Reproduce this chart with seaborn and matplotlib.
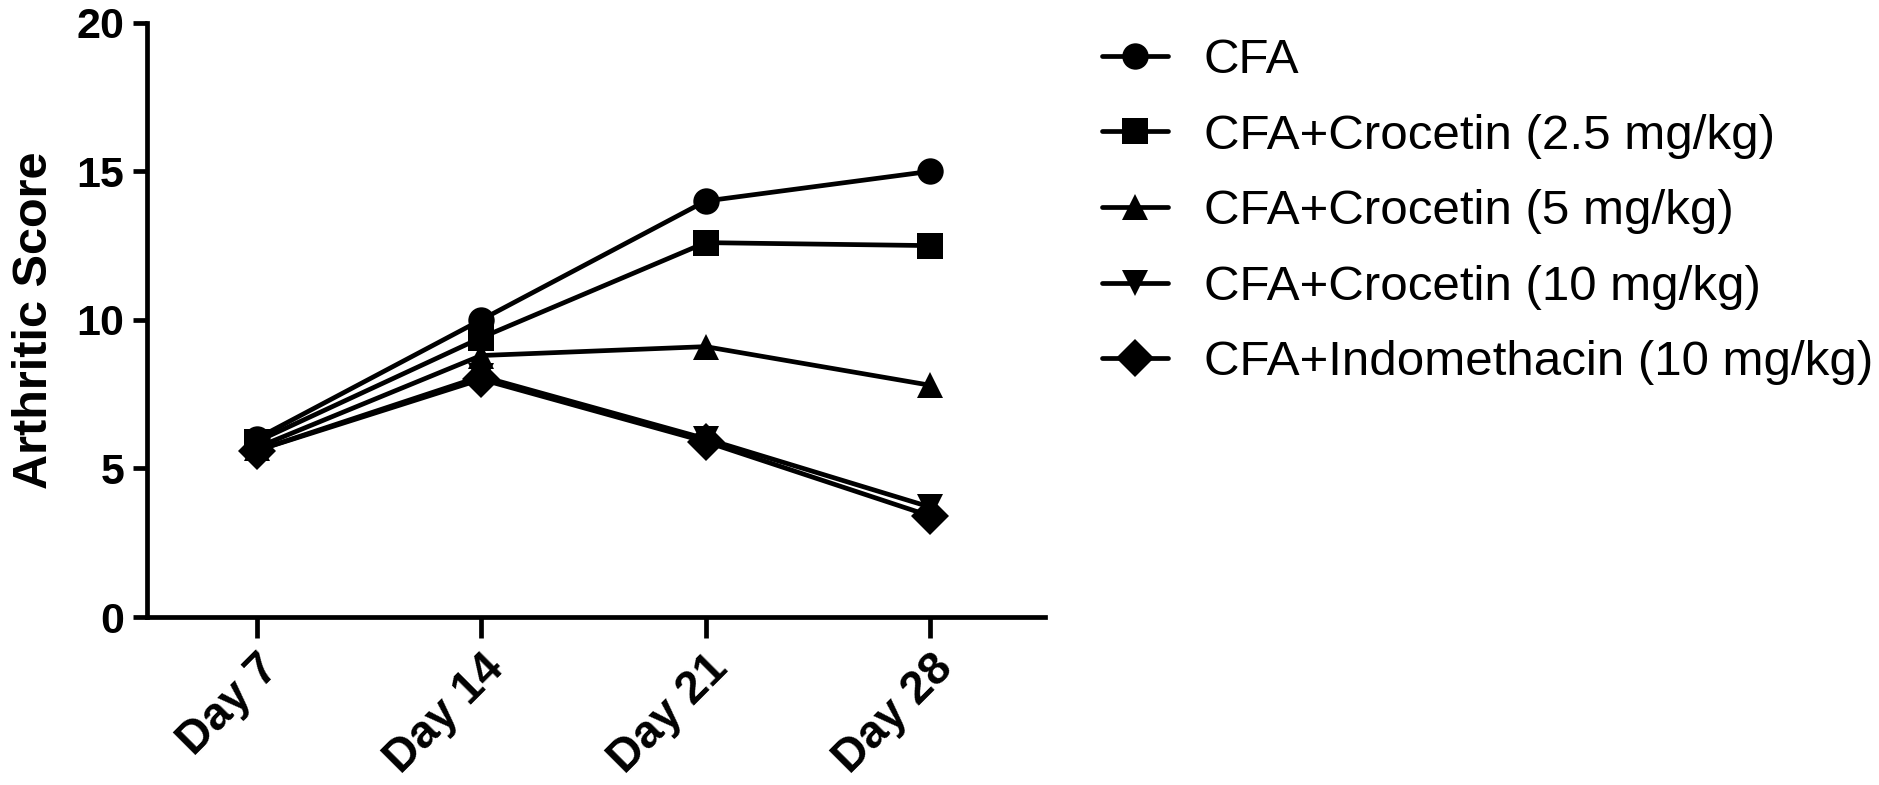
import pandas as pd
import matplotlib
matplotlib.use('Agg')
import matplotlib.pyplot as plt
import seaborn as sns

days = ['Day 7', 'Day 14', 'Day 21', 'Day 28']
groups = ['CFA', 'CFA+Crocetin (2.5 mg/kg)', 'CFA+Crocetin (5 mg/kg)',
          'CFA+Crocetin (10 mg/kg)', 'CFA+Indomethacin (10 mg/kg)']
cfa = [6.0, 10.0, 14.0, 15.0]
croc_25 = [5.9, 9.4, 12.6, 12.5]
croc_5 = [5.7, 8.8, 9.1, 7.8]
croc_10 = [5.6, 8.1, 6.0, 3.7]
indo = [5.6, 8.0, 5.9, 3.4]

series = [cfa, croc_25, croc_5, croc_10, indo]
rows = []
for g, vals in zip(groups, series):
    for d, v in zip(days, vals):
        rows.append({'day': d, 'score': v, 'group': g})
df = pd.DataFrame(rows)

sns.set_style('ticks')
plt.rcParams['font.family'] = ['Liberation Sans', 'DejaVu Sans']
plt.rcParams['text.color'] = 'black'
plt.rcParams['axes.labelcolor'] = 'black'
plt.rcParams['xtick.color'] = 'black'
plt.rcParams['ytick.color'] = 'black'

fig = plt.figure(figsize=(18.79, 7.85), dpi=100)
ax = fig.add_axes([0.078, 0.214, 0.478, 0.757])

sns.lineplot(data=df, x='day', y='score', style='group', style_order=groups,
             markers=['o', 's', '^', 'v', 'D'], dashes=False, color='black',
             linewidth=3.4, markersize=19, markeredgewidth=0, ax=ax)

ax.set_xlim(-0.49, 3.51)
ax.set_ylim(0, 20)
ax.set_yticks([0, 5, 10, 15, 20])
ax.set_xlabel('')
ax.set_ylabel('Arthritic Score', fontsize=35, fontweight='bold', labelpad=14)
for side in ['top', 'right']:
    ax.spines[side].set_visible(False)
for side in ['left', 'bottom']:
    ax.spines[side].set_linewidth(3.4)
    ax.spines[side].set_color('black')
ax.tick_params(axis='both', width=3.4, color='black', labelsize=31)
ax.tick_params(axis='y', length=10, pad=6)
ax.tick_params(axis='x', length=15, pad=6, labelsize=33)
for lab in ax.get_yticklabels():
    lab.set_fontweight('bold')
for lab in ax.get_xticklabels():
    lab.set_fontweight('bold')
    lab.set_rotation(45)
    lab.set_ha('right')
    lab.set_rotation_mode('anchor')

handles, labels = ax.get_legend_handles_labels()
ax.get_legend().remove()
fig.legend(handles, labels, loc='upper left', bbox_to_anchor=(0.563, 1.008),
           frameon=False, fontsize=35.5, handlelength=1.34, handletextpad=0.72,
           labelspacing=0.62)

plt.savefig('out.png', dpi=100)
plt.close()
